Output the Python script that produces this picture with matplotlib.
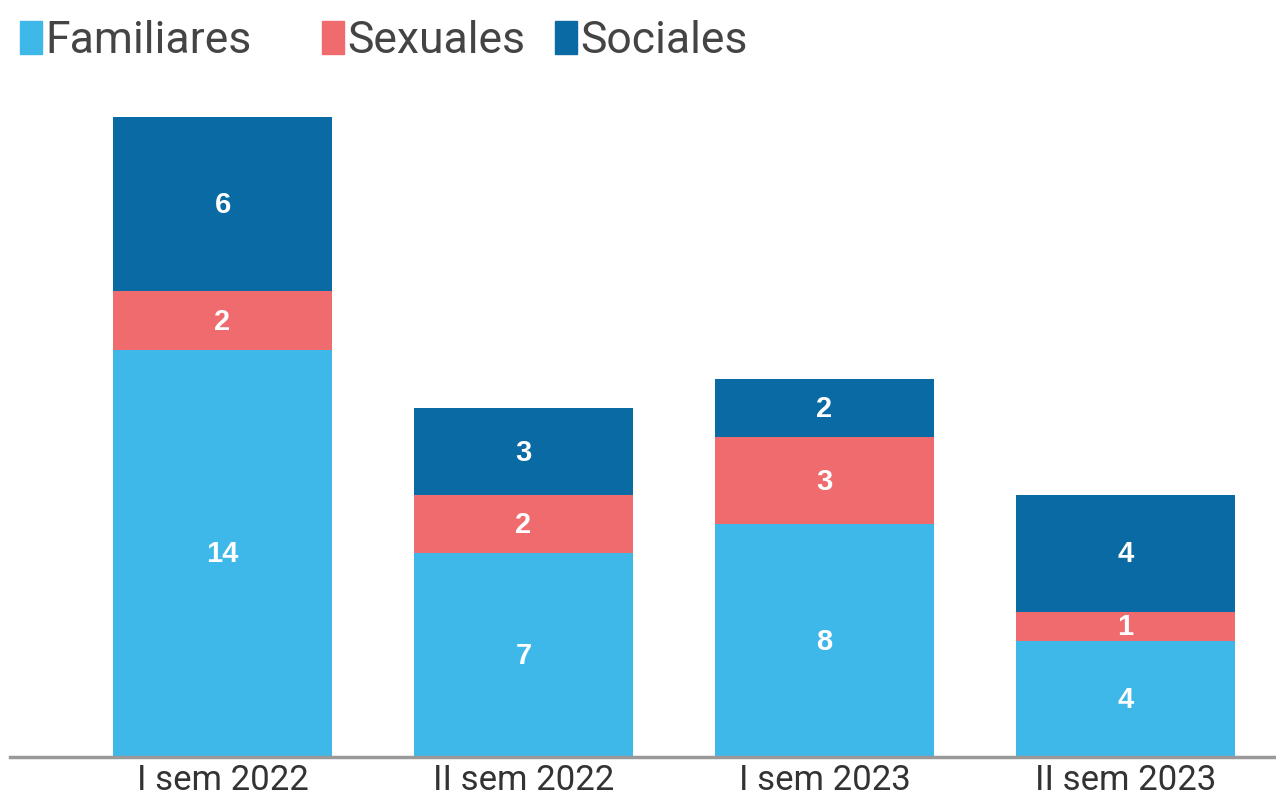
import matplotlib.pyplot as plt
from matplotlib import font_manager
from matplotlib.patches import Rectangle

categories = ["I sem 2022", "II sem 2022", "I sem 2023", "II sem 2023"]
familiares = [14, 7, 8, 4]
sexuales = [2, 2, 3, 1]
sociales = [6, 3, 2, 4]

series = [("Familiares", familiares, "#3db8e8"),
          ("Sexuales", sexuales, "#f06b6e"),
          ("Sociales", sociales, "#0a6aa3")]

names = {f.name for f in font_manager.fontManager.ttflist}
cond = "Liberation Sans Narrow" if "Liberation Sans Narrow" in names else "Roboto"

W, H = 1276, 804
fig = plt.figure(figsize=(W / 100, H / 100), dpi=100)
ax = fig.add_axes([10 / W, 46 / H, 1266 / W, 668 / H])

x = range(len(categories))
bottom = [0] * len(categories)
for name, vals, color in series:
    ax.bar(x, vals, width=0.728, bottom=bottom, color=color, label=name)
    for i, v in enumerate(vals):
        ax.text(i, bottom[i] + v / 2, str(v), ha="center", va="center",
                color="white", fontsize=21, fontweight="bold",
                family="Liberation Sans")
    bottom = [b + v for b, v in zip(bottom, vals)]

ax.set_xlim(-0.706, 3.5)
ax.set_ylim(0, 22.96)
for s in ["top", "right", "left"]:
    ax.spines[s].set_visible(False)
ax.spines["bottom"].set_color("#999999")
ax.spines["bottom"].set_linewidth(2.5)
ax.set_yticks([])
ax.set_xticks(list(x))
ax.set_xticklabels(categories, fontsize=25, family=cond, color="#333333")
ax.tick_params(axis="x", length=0, pad=4)

# legend drawn by hand, items are not evenly spaced in the original
legend_x = [20, 322, 555]
for (name, _, color), lx in zip(series, legend_x):
    fig.add_artist(Rectangle((lx / W, 1 - 55 / H), 22 / W, 33 / H,
                             transform=fig.transFigure, color=color))
    fig.text((lx + 25) / W, 1 - 53 / H, name, fontsize=32, family=cond,
             color="#444444", ha="left", va="baseline")

fig.savefig("out.png", dpi=100, facecolor="white")
